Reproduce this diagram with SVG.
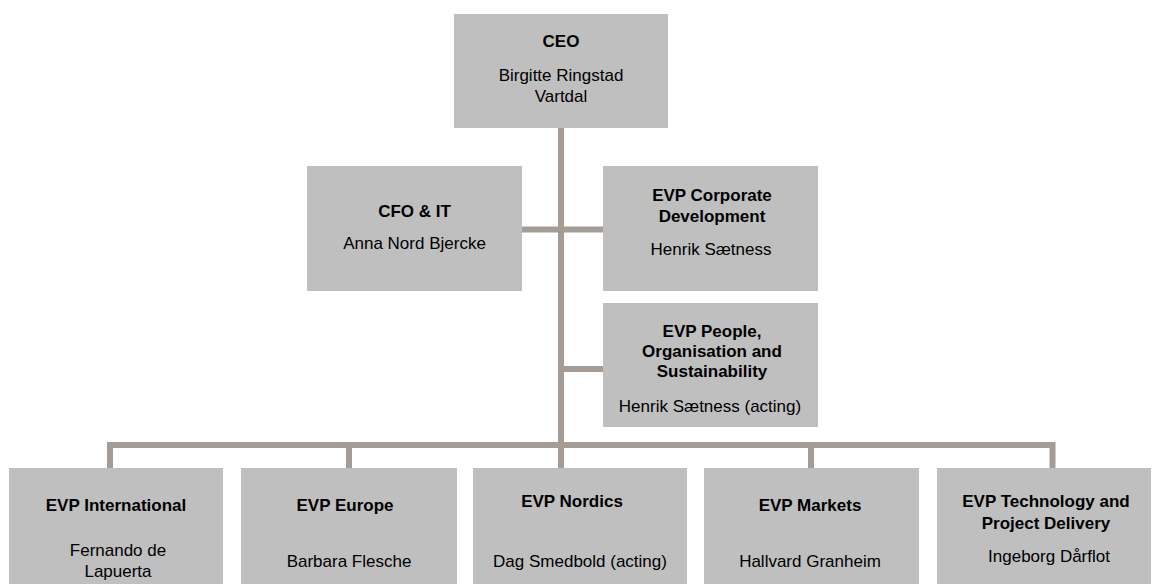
<svg xmlns="http://www.w3.org/2000/svg" width="1152" height="584" viewBox="0 0 1152 584">
<style>
.box{fill:#BFBFBF}
.t{font-family:"Liberation Sans",Arial,sans-serif;font-size:17px;fill:#000;text-anchor:middle}
.b{font-weight:bold}
.c{fill:none;stroke:#A59D95;stroke-width:6;stroke-linejoin:miter;stroke-linecap:butt}
</style>
<rect width="1152" height="584" fill="#fff"/>
<g id="connectors">
<path class="c" d="M561 128 V468"/>
<path class="c" d="M522 229.5 H603"/>
<path class="c" d="M561 369 H603"/>
<path class="c" d="M110 468 V445 H1052.5 V468"/>
<path class="c" d="M349 445 V468"/>
<path class="c" d="M811 445 V468"/>
</g>
<g id="ceo">
<rect class="box" x="454" y="14" width="214" height="114"/>
<text class="t b" x="561" y="47">CEO</text>
<text class="t" x="561" y="81">Birgitte Ringstad</text>
<text class="t" x="561" y="102">Vartdal</text>
</g>
<g id="cfo">
<rect class="box" x="307" y="166" width="215" height="125"/>
<text class="t b" x="414.5" y="217">CFO &amp; IT</text>
<text class="t" x="414.5" y="249">Anna Nord Bjercke</text>
</g>
<g id="corpdev">
<rect class="box" x="603" y="166" width="215" height="125"/>
<text class="t b" x="712" y="201">EVP Corporate</text>
<text class="t" x="712" y="222" font-weight="bold">Development</text>
<text class="t" x="711" y="255">Henrik Sætness</text>
</g>
<g id="people">
<rect class="box" x="603" y="303" width="215" height="124"/>
<text class="t b" x="712" y="337">EVP People,</text>
<text class="t b" x="712" y="357">Organisation and</text>
<text class="t b" x="712" y="377">Sustainability</text>
<text class="t" x="710" y="412">Henrik Sætness (acting)</text>
</g>
<g id="international">
<rect class="box" x="9" y="468" width="214" height="120"/>
<text class="t b" x="116" y="511">EVP International</text>
<text class="t" x="118" y="556">Fernando de</text>
<text class="t" x="118" y="577">Lapuerta</text>
</g>
<g id="europe">
<rect class="box" x="241" y="468" width="216" height="120"/>
<text class="t b" x="345" y="511">EVP Europe</text>
<text class="t" x="349" y="567">Barbara Flesche</text>
</g>
<g id="nordics">
<rect class="box" x="473" y="468" width="214" height="120"/>
<text class="t b" x="572" y="507">EVP Nordics</text>
<text class="t" x="580" y="567">Dag Smedbold (acting)</text>
</g>
<g id="markets">
<rect class="box" x="704" y="468" width="215" height="120"/>
<text class="t b" x="810" y="511">EVP Markets</text>
<text class="t" x="810" y="567">Hallvard Granheim</text>
</g>
<g id="technology">
<rect class="box" x="937" y="468" width="214" height="120"/>
<text class="t b" x="1046" y="507">EVP Technology and</text>
<text class="t b" x="1046" y="529">Project Delivery</text>
<text class="t" x="1049" y="562">Ingeborg Dårflot</text>
</g>
</svg>
